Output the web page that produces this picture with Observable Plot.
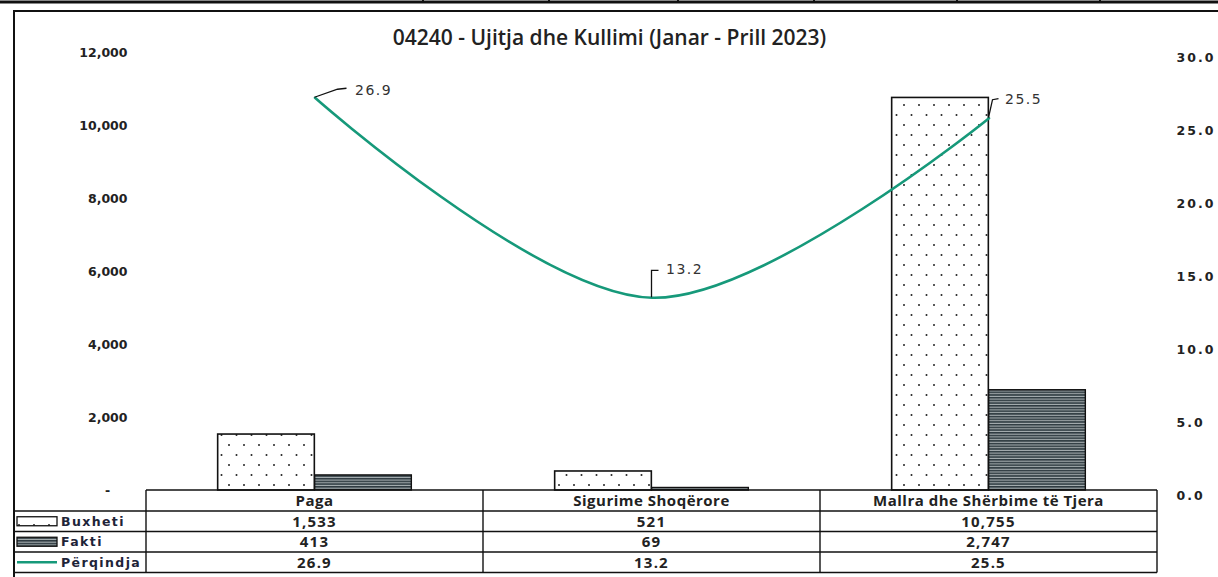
<!DOCTYPE html>
<html>
<head>
<meta charset="utf-8">
<script src="https://cdn.jsdelivr.net/npm/d3@7"></script>
<script src="https://cdn.jsdelivr.net/npm/@observablehq/plot@0.6"></script>
<style>
  html, body { margin: 0; padding: 0; background: #fff; }
  #chart { width: 1218px; height: 577px; overflow: hidden; }
</style>
</head>
<body>
<div id="chart"></div>
<script>
const title = "04240 - Ujitja dhe Kullimi (Janar - Prill 2023)";
const categories = ["Paga", "Sigurime Shoqërore", "Mallra dhe Shërbime të Tjera"];
const buxheti = [1533, 521, 10755];
const fakti = [413, 69, 2747];
const perqindja = [26.9, 13.2, 25.5];
const seriesNames = ["Buxheti", "Fakti", "Përqindja"];
const leftTicks = [0, 2000, 4000, 6000, 8000, 10000, 12000];
const rightMax = 30;
const leftMax = 12000;
const ratio = leftMax / rightMax;

const W = 1218, H = 577;
const mL = 145, mR = 61, mT = 52, mB = 87;
const bw = (W - mL - mR) / categories.length;
const barW = 97;
const green = "#16997a";
const tickFont = "DejaVu Sans, sans-serif";
const tableFont = "Open Sans, sans-serif";

const labelOffsets = [[40, -7], [14, -28], [16, -19]];
const leaders = [
  [[0, 0], [23, -8], [32, -9]],
  [[0, 0], [0, -27], [7, -27]],
  [[0, 0], [4, -18], [10, -19]]
];

const plot = Plot.plot({
  width: W, height: H,
  marginLeft: mL, marginRight: mR, marginTop: mT, marginBottom: mB,
  style: {background: "transparent", overflow: "visible"},
  x: {type: "band", domain: categories, padding: 0, axis: null},
  y: {domain: [0, leftMax], axis: null},
  marks: [
    Plot.axisY({
      ticks: leftTicks, tickSize: 0, tickPadding: 18,
      tickFormat: d => d === 0 ? "-\u00a0\u00a0\u00a0\u00a0" : d3.format(",")(d),
      fontSize: 12.5, fontWeight: "bold", fill: "#222", fontFamily: tickFont
    }),
    Plot.axisY({
      anchor: "right", ticks: leftTicks, tickSize: 0, tickPadding: 19, dy: 5,
      tickFormat: d => (d / ratio).toFixed(1),
      fontSize: 12.5, fontWeight: "bold", fill: "#222", fontFamily: tickFont
    }),
    Plot.barY(categories, {
      x: categories, y: buxheti, fill: "url(#dots)", stroke: "#111", strokeWidth: 1.6,
      insetLeft: bw / 2 - barW, insetRight: bw / 2
    }),
    Plot.barY(categories, {
      x: categories, y: fakti, fill: "url(#stripes)", stroke: "#111", strokeWidth: 1.4,
      insetLeft: bw / 2, insetRight: bw / 2 - barW
    }),
    Plot.line(categories, {
      x: categories, y: perqindja.map(v => v * ratio),
      curve: "catmull-rom", stroke: green, strokeWidth: 2.6
    }),
    ...categories.map((c, i) => Plot.text([c], {
      x: [c], y: [perqindja[i] * ratio],
      text: [perqindja[i].toFixed(1)],
      dx: labelOffsets[i][0], dy: labelOffsets[i][1],
      textAnchor: "start", fontSize: 14, fill: "#333", fontFamily: tickFont
    })),
    Plot.text([title], {
      frameAnchor: "top", dy: -22, dx: W / 2 - (mL + (W - mL - mR) / 2), text: d => d,
      fontSize: 21, fontWeight: 600, fill: "#222", fontFamily: tableFont
    })
  ]
});

const svg = d3.select(plot);
const pctTexts = perqindja.map(v => v.toFixed(1));
svg.selectAll("text").each(function() {
  if (pctTexts.includes(this.textContent)) d3.select(this).style("letter-spacing", "1.5px");
});
svg.selectAll("g[aria-label='y-axis tick label']").each(function(d, i) {
  if (i === 1) d3.select(this).selectAll("text").style("letter-spacing", "2px");
});

// patterns
const defs = svg.insert("defs", ":first-child");
const dp = defs.append("pattern").attr("id", "dots").attr("patternUnits", "userSpaceOnUse")
  .attr("width", 15).attr("height", 20);
dp.append("rect").attr("width", 15).attr("height", 20).attr("fill", "#fff");
dp.append("circle").attr("cx", 4).attr("cy", 5).attr("r", 1).attr("fill", "#222");
dp.append("circle").attr("cx", 11.5).attr("cy", 15).attr("r", 1).attr("fill", "#222");
const sp = defs.append("pattern").attr("id", "stripes").attr("patternUnits", "userSpaceOnUse")
  .attr("width", 8).attr("height", 2.7);
sp.append("rect").attr("width", 8).attr("height", 2.7).attr("fill", "#a8b0b2");
sp.append("rect").attr("y", 0).attr("width", 8).attr("height", 1.6).attr("fill", "#2e3a40");

const xs = plot.scale("x"), ys = plot.scale("y");
const cx = c => xs.apply(c) + xs.bandwidth / 2;
const py = v => ys.apply(v * ratio);

// leader lines
const ann = svg.append("g");
categories.forEach((c, i) => {
  const x0 = cx(c), y0 = py(perqindja[i]);
  ann.append("path")
    .attr("d", d3.line()(leaders[i].map(([dx, dy]) => [x0 + dx, y0 + dy])))
    .attr("fill", "none").attr("stroke", "#111").attr("stroke-width", 1.3);
});

// outer frame and top strip
const deco = svg.append("g");
deco.append("rect").attr("x", 14).attr("y", 11).attr("width", W).attr("height", H)
  .attr("fill", "none").attr("stroke", "#111").attr("stroke-width", 2);
deco.append("line").attr("x1", 0).attr("x2", W).attr("y1", 2).attr("y2", 2)
  .attr("stroke", "#111").attr("stroke-width", 3);
[423, 549, 678, 814, 957, 1100].forEach(x => deco.append("line")
  .attr("x1", x).attr("x2", x).attr("y1", 0).attr("y2", 3).attr("stroke", "#111").attr("stroke-width", 2));

// data table
const y0 = ys.apply(0);
const rowH = [21, 20.5, 20.5, 20.5];
const rowsY = [y0];
rowH.forEach(h => rowsY.push(rowsY[rowsY.length - 1] + h));
const xLeft = xs.apply(categories[0]);
const xRight = xs.apply(categories[categories.length - 1]) + xs.bandwidth;
const tbl = svg.append("g").attr("stroke", "#111").attr("stroke-width", 1.4);
tbl.append("line").attr("x1", xLeft).attr("x2", xRight).attr("y1", rowsY[0]).attr("y2", rowsY[0]);
rowsY.slice(1).forEach(y => tbl.append("line").attr("x1", 14).attr("x2", xRight).attr("y1", y).attr("y2", y));
categories.forEach(c => tbl.append("line").attr("x1", xs.apply(c)).attr("x2", xs.apply(c)).attr("y1", rowsY[0]).attr("y2", rowsY[4]));
tbl.append("line").attr("x1", xRight).attr("x2", xRight).attr("y1", rowsY[0]).attr("y2", rowsY[4]);

const txt = svg.append("g").attr("font-family", tableFont).attr("font-weight", "bold")
  .attr("font-size", 15).attr("fill", "#222").attr("text-anchor", "middle");
const rowVals = [buxheti.map(d3.format(",")), fakti.map(d3.format(",")), perqindja.map(v => v.toFixed(1))];
categories.forEach((c, i) => {
  txt.append("text").attr("x", cx(c)).attr("y", (rowsY[0] + rowsY[1]) / 2).attr("dy", "0.35em")
    .style("letter-spacing", "0.5px").text(c);
  rowVals.forEach((vals, r) => {
    txt.append("text").attr("x", cx(c)).attr("y", (rowsY[r + 1] + rowsY[r + 2]) / 2).attr("dy", "0.35em")
      .style("letter-spacing", "1.2px").text(vals[i]);
  });
});

// legend entries in table
const leg = svg.append("g").attr("text-anchor", "start");
seriesNames.forEach((name, r) => {
  const ym = (rowsY[r + 1] + rowsY[r + 2]) / 2;
  if (r === 0) {
    leg.append("rect").attr("x", 17).attr("y", ym - 4.5).attr("width", 40).attr("height", 9)
      .attr("fill", "url(#dots)").attr("stroke", "#111").attr("stroke-width", 1.3);
  } else if (r === 1) {
    leg.append("rect").attr("x", 17).attr("y", ym - 4.5).attr("width", 40).attr("height", 9)
      .attr("fill", "url(#stripes)").attr("stroke", "#111").attr("stroke-width", 1.3);
  } else {
    leg.append("line").attr("x1", 17).attr("x2", 57).attr("y1", ym).attr("y2", ym)
      .attr("stroke", green).attr("stroke-width", 2.4);
  }
  leg.append("text").attr("x", 61).attr("y", ym).attr("dy", "0.35em").attr("text-anchor", "start")
    .attr("font-family", tickFont).attr("font-weight", "bold").attr("font-size", 12.5)
    .attr("fill", "#1e2438").style("letter-spacing", "1.4px").text(name);
});

document.getElementById("chart").appendChild(plot);
</script>
</body>
</html>
